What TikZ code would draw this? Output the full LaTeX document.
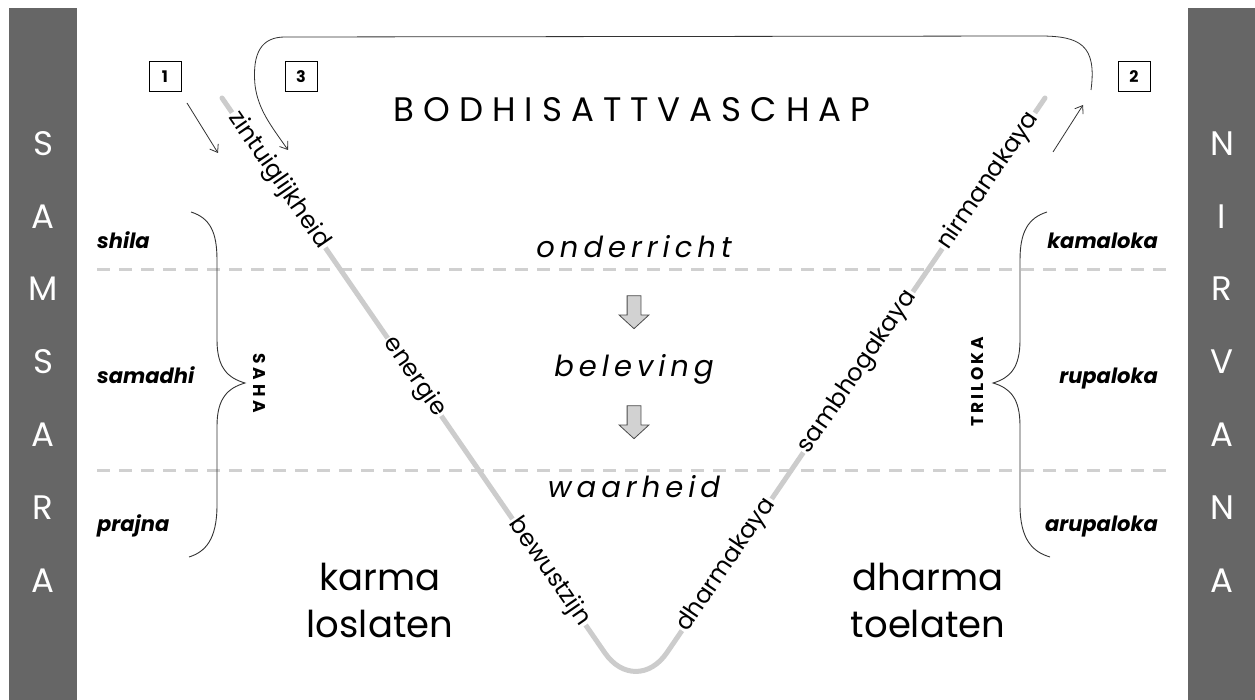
\documentclass[tikz,border=0pt]{standalone}
\usepackage{fontspec}
\setmainfont{Poppins}
\usepackage{tikz}
\usetikzlibrary{arrows.meta, positioning, shapes.arrows, calc}

\definecolor{bargray}{HTML}{666666}
\definecolor{vgray}{HTML}{CCCCCC}
\definecolor{dashgray}{HTML}{D0D0D0}
\definecolor{inkgray}{HTML}{333333}

\makeatletter
\newcommand{\spreadletters}[2]{\@tfor\sl@ch:=#2\do{\sl@ch\hspace{#1}}\unskip}
\makeatother

\tikzset{
  barletter/.style = {text=white, inner sep=0pt, font=\fontsize{34}{34}\selectfont},
  numbox/.style    = {draw, line width=1pt, minimum width=32pt, minimum height=30pt,
                      inner sep=0pt, font=\bfseries\fontsize{16}{16}\selectfont},
  flow/.style      = {-{Straight Barb[length=7pt, width=10pt]}, line width=0.8pt, draw=inkgray},
  divider/.style   = {dashgray, line width=3pt, dash pattern=on 13pt off 9pt},
  vline/.style     = {vgray, line width=5pt, line cap=round, rounded corners=55pt},
  along/.style     = {sloped, fill=white, inner sep=1.5pt, font=\fontsize{24}{24}\selectfont},
  stage/.style     = {anchor=base, inner sep=0pt, font=\itshape\fontsize{29}{29}\selectfont},
  realm/.style     = {inner sep=0pt, font=\bfseries\itshape\fontsize{21}{21}\selectfont},
  world/.style     = {inner sep=0pt, font=\bfseries\fontsize{17}{17}\selectfont},
  bigword/.style   = {align=center, inner sep=0pt, font=\fontsize{37}{47}\selectfont},
  brace/.style     = {line width=0.9pt, draw=inkgray},
  downarrow/.style = {single arrow, draw=gray!60!black, fill=gray!35, line width=0.8pt,
                      rotate=-90, inner xsep=0pt, inner ysep=6.5pt, minimum height=33pt,
                      single arrow head extend=8pt, single arrow tip angle=95},
}

\begin{document}
\begin{tikzpicture}[x=1pt, y=-1pt]
  \useasboundingbox (0,0) rectangle (1255,700);
  \fill[white] (0,0) rectangle (1255,700);

  % side bars
  \fill[bargray] (9,8) rectangle (77,700);
  \fill[bargray] (1188,8) rectangle (1255,700);
  \foreach \ch [count=\i] in {S,A,M,S,A,R,A}
    \node[barletter] (sam\i) at (43,{143.5+72.8*(\i-1)}) {\ch};
  \foreach \ch [count=\i] in {N,I,R,V,A,N,A}
    \node[barletter] (nir\i) at (1222,{143.5+72.8*(\i-1)}) {\ch};

  % level lines
  \draw[divider] (97,270) -- (1170,270);
  \draw[divider] (97,470) -- (1170,470);

  % the V
  \coordinate (vl) at (222,98);
  \coordinate (vb) at (636,698);
  \coordinate (vr) at (1045,98);
  \draw[vline] (vl) -- (vb) -- (vr);
  \path (vl) -- (vb)
    node[along, pos=0.137] (zin)  {zintuiglijkheid}
    node[along, pos=0.465] (ener) {energie}
    node[along, pos=0.79]  (bewu) {bewustzijn};
  \path (vb) -- (vr)
    node[along, pos=0.222] (dharm) {dharmakaya}
    node[along, pos=0.543] (sambh) {sambhogakaya}
    node[along, pos=0.862] (nirm)  {nirmanakaya};

  % title and steps
  \node[inner sep=0pt, font=\fontsize{34}{34}\selectfont] (title) at (632,110)
    {\spreadletters{9pt}{BODHISATTVASCHAP}};
  \node[stage] (teach) at (634,258) {\spreadletters{5pt}{onderricht}};
  \node[stage] (live)  at (634,377) {\spreadletters{5pt}{beleving}};
  \node[stage] (truth) at (634,497) {\spreadletters{5pt}{waarheid}};
  \node[downarrow] (arr1) at (634,309) {};
  \node[downarrow] (arr2) at (634,419) {};

  \node[bigword] (karma)  at (380,600) {karma\\loslaten};
  \node[bigword] (dharma) at (928,600) {dharma\\toelaten};

  % realms
  \node[realm, anchor=base west] (shila)   at (97,249)  {shila};
  \node[realm, anchor=base west] (samadhi) at (97,383)  {samadhi};
  \node[realm, anchor=base west] (prajna)  at (97,531)  {prajna};
  \node[realm, anchor=base east] (kama)    at (1158,249) {kamaloka};
  \node[realm, anchor=base east] (rupa)    at (1158,383) {rupaloka};
  \node[realm, anchor=base east] (arupa)   at (1158,531) {arupaloka};

  \draw[brace] (191,212) .. controls (210,218) and (217,232) .. (217,260) -- (217,340)
    .. controls (217,368) and (228,378) .. (245,383)
    .. controls (228,388) and (217,398) .. (217,426) -- (217,505)
    .. controls (217,540) and (205,552) .. (189,557);
  \draw[brace] (1047,212) .. controls (1028,218) and (1020,232) .. (1020,260) -- (1020,340)
    .. controls (1020,368) and (1010,378) .. (993,383)
    .. controls (1010,388) and (1020,398) .. (1020,426) -- (1020,505)
    .. controls (1020,540) and (1033,552) .. (1050,557);
  \node[world, rotate=-90] (saha) at (259,383) {\spreadletters{4pt}{SAHA}};
  \node[world, rotate=90] (triloka) at (977,382) {\spreadletters{3pt}{TRILOKA}};

  % steps 1-3
  \node[numbox] (box1) at (165,77)  {1};
  \node[numbox] (box3) at (301,77)  {3};
  \node[numbox] (box2) at (1134,77) {2};
  \coordinate (in1a)  at (187,103);
  \coordinate (in1b)  at (218,153);
  \coordinate (out2a) at (1053,152);
  \coordinate (out2b) at (1083,105);
  \coordinate (retstart) at (1091,90);
  \coordinate (retend)   at (288,150);
  \draw[flow] (in1a) -- (in1b);
  \draw[flow] (out2a) -- (out2b);
  \draw[flow] (retstart) .. controls (1097,45) and (1080,36) .. (1040,36) -- (285,37)
    .. controls (262,37) and (252,52) .. (255,85)
    .. controls (258,110) and (272,127) .. (retend);
\end{tikzpicture}
\end{document}
